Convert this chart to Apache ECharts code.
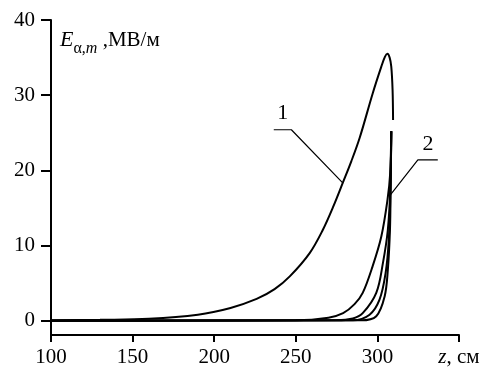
<!DOCTYPE html>
<html>
<head>
<meta charset="utf-8">
<script src="https://cdn.jsdelivr.net/npm/echarts@6/dist/echarts.min.js"></script>
<style>
  html, body { margin: 0; padding: 0; background: #fff; }
  #chart { width: 489px; height: 369px; }
</style>
</head>
<body>
<div id="chart"></div>
<script>
// curve 1: [z, E]
const curve1 = [
  [100, 0.05], [130, 0.12], [160, 0.25], [190, 0.8], [210, 1.7], [226, 2.9],
  [237, 4.2], [246.3, 5.9], [258.5, 9.0], [266.6, 12.1], [272.8, 15.1], [278.9, 18.4],
  [284, 21.2], [289.1, 24.3], [297.2, 30.3], [302.4, 33.8], [304.6, 35.1], [306.1, 35.5],
  [307.5, 35.0], [308.5, 33.8], [309.3, 30.7], [309.6, 26.7]
];
// group of curves "2", outermost to innermost
const curve2a = [
  [100, 0], [250, 0.05], [270, 0.4], [279, 1.0], [286, 2.2], [291, 3.7], [297, 7.2],
  [302.4, 11.2], [306.2, 16.1], [307.8, 19.5], [308.5, 25.2]
];
const curve2b = [
  [100, 0], [275, 0.05], [285, 0.3], [291, 1.0], [299.3, 3.7], [303.4, 7.7],
  [306.4, 12.1], [307.9, 17.5], [308.5, 25.2]
];
const curve2c = [
  [100, 0], [285, 0.05], [295.2, 0.8], [301.3, 2.8], [305, 6.3], [307, 10.8],
  [308, 17.5], [308.5, 25.2]
];
const curve2d = [
  [100, 0], [290, 0.05], [299.3, 0.6], [304.4, 3.2], [306.4, 6.8], [307.7, 12.1],
  [308.1, 17.5], [308.5, 25.2]
];

const xTicks = [100, 150, 200, 250, 300, 350];
const yTicks = [0, 10, 20, 30, 40];

// leader lines and their numbers, in data units
const leader1 = [[236.5, 25.4], [247.3, 25.4], [278.9, 18.3]];
const leader2 = [[308.2, 16.8], [324.8, 21.4], [337, 21.4]];
const curveLabels = [
  { name: '1', value: [242, 27.6] },
  { name: '2', value: [331, 23.5] }
];

const FONT = '"Liberation Serif", "DejaVu Serif", serif';

const chart = echarts.init(document.getElementById('chart'));

function curveSeries(data) {
  return {
    type: 'line',
    data: data,
    smooth: 0.35,
    showSymbol: false,
    symbol: 'none',
    lineStyle: { color: '#000', width: 2 },
    z: 3
  };
}

function leaderSeries(data) {
  return {
    type: 'line',
    data: data,
    showSymbol: false,
    symbol: 'none',
    lineStyle: { color: '#000', width: 1.2 },
    z: 2
  };
}

chart.setOption({
  backgroundColor: '#fff',
  animation: false,
  textStyle: { fontFamily: FONT, color: '#000' },
  title: {
    left: 55,
    top: 21,
    text: '{e|E}{s|α,}{si|m}{n| ,МВ/м}',
    textStyle: {
      fontWeight: 'normal',
      rich: {
        e: { fontFamily: FONT, fontStyle: 'italic', fontWeight: 'normal', fontSize: 22, color: '#000', lineHeight: 28, verticalAlign: 'middle' },
        s: { fontFamily: FONT, fontWeight: 'normal', fontSize: 16, color: '#000', lineHeight: 28, verticalAlign: 'bottom', padding: [0, 0, -3, 0] },
        si: { fontFamily: FONT, fontStyle: 'italic', fontWeight: 'normal', fontSize: 16, color: '#000', lineHeight: 28, verticalAlign: 'bottom', padding: [0, 0, -3, 0] },
        n: { fontFamily: FONT, fontWeight: 'normal', fontSize: 21, color: '#000', lineHeight: 28, verticalAlign: 'middle' }
      }
    }
  },
  grid: { left: 51, right: 30, top: 20, bottom: 34, containLabel: false },
  xAxis: {
    type: 'value',
    min: 100,
    max: 350,
    axisLine: { onZero: false, lineStyle: { color: '#000', width: 2 } },
    axisTick: { customValues: xTicks, length: 7, lineStyle: { color: '#000', width: 2 } },
    axisLabel: {
      customValues: xTicks,
      margin: 12,
      fontFamily: FONT,
      fontSize: 21,
      color: '#000',
      formatter: v => (v === 350 ? '{i|z}, см' : String(v)),
      rich: {
        i: { fontFamily: FONT, fontStyle: 'italic', fontSize: 21, color: '#000' }
      }
    },
    splitLine: { show: false }
  },
  yAxis: {
    type: 'value',
    min: -1.9,
    max: 40,
    axisLine: { onZero: false, lineStyle: { color: '#000', width: 2 } },
    axisTick: { customValues: yTicks, length: 10, lineStyle: { color: '#000', width: 2 } },
    axisLabel: {
      customValues: yTicks,
      margin: 16,
      fontFamily: FONT,
      fontSize: 21,
      color: '#000'
    },
    splitLine: { show: false }
  },
  series: [
    curveSeries(curve1),
    curveSeries(curve2a),
    curveSeries(curve2b),
    curveSeries(curve2c),
    curveSeries(curve2d),
    leaderSeries(leader1),
    leaderSeries(leader2),
    {
      type: 'scatter',
      data: curveLabels,
      symbolSize: 0,
      itemStyle: { opacity: 1 },
      label: {
        show: true,
        position: 'inside',
        formatter: p => p.name,
        fontFamily: FONT,
        fontSize: 22,
        color: '#000',
        opacity: 1
      },
      z: 4
    }
  ]
});
</script>
</body>
</html>
